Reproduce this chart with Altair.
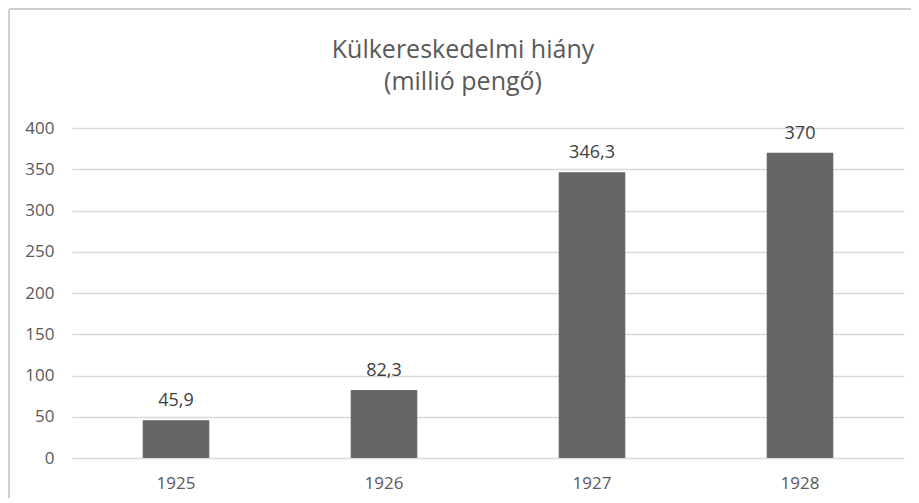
import altair as alt
import pandas as pd

years = ["1925", "1926", "1927", "1928"]
values = [45.9, 82.3, 346.3, 370]
labels = ["45,9", "82,3", "346,3", "370"]

df = pd.DataFrame({"year": years, "value": values, "label": labels})

FONT = "Open Sans"

base = alt.Chart(df).encode(
    x=alt.X("year:N", sort=years, title=None,
            scale=alt.Scale(paddingInner=0.68, paddingOuter=0.34),
            axis=alt.Axis(labelAngle=0, ticks=False, domain=False, labelPadding=17,
                          labelFontSize=17, labelColor="#595959", labelFont=FONT)),
    y=alt.Y("value:Q", title=None,
            scale=alt.Scale(domain=[0, 400], nice=False),
            axis=alt.Axis(values=list(range(0, 401, 50)), ticks=False, domain=False,
                          labelPadding=18, labelFontSize=17, labelColor="#595959",
                          labelFont=FONT, gridColor="#d9d9d9", gridWidth=1.5)),
)

bars = base.mark_bar(color="#666666")
text = base.mark_text(dy=-14, baseline="alphabetic", fontSize=18, font=FONT,
                      color="#404040").encode(text="label:N")

border_left = alt.Chart(df).mark_rule(color="#cfcfcf", strokeWidth=2, clip=False).encode(
    x=alt.value(-63), y=alt.value(-119), y2=alt.value(400))
border_top = alt.Chart(df).mark_rule(color="#cfcfcf", strokeWidth=2, clip=False).encode(
    x=alt.value(-63), x2=alt.value(900), y=alt.value(-119))

chart = alt.layer(bars, text, border_left, border_top).properties(
    width=832, height=330,
    title=alt.TitleParams(text=["Külkereskedelmi hiány", "(millió pengő)"],
                          fontSize=25, font=FONT, color="#595959", fontWeight="normal",
                          lineHeight=32, anchor="middle", dx=-25, offset=-87),
    autosize=alt.AutoSizeParams(type="none"),
    padding={"left": 64, "top": 120, "right": 7, "bottom": 40},
).configure_view(stroke=None)

chart.save("out.html", embed_options={"renderer": "svg", "actions": False})
